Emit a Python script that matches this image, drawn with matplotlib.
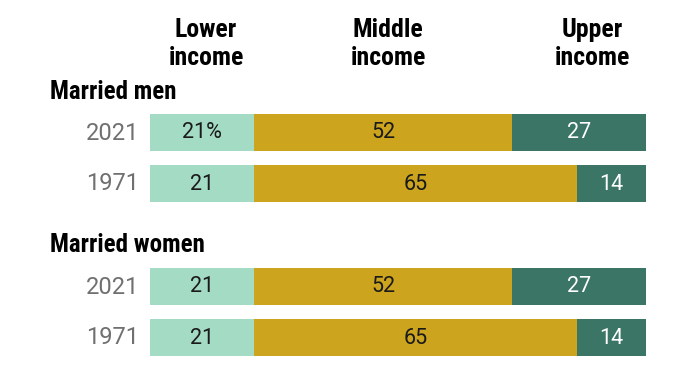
import matplotlib
matplotlib.use("Agg")
import matplotlib.pyplot as plt
import matplotlib.font_manager as fm

# Data
groups = ["Married men", "Married women"]
years = ["2021", "1971"]
categories = ["Lower\nincome", "Middle\nincome", "Upper\nincome"]
men_lower = [21, 21]
men_middle = [52, 65]
men_upper = [27, 14]
women_lower = [21, 21]
women_middle = [52, 65]
women_upper = [27, 14]

colors = ["#a3dbc5", "#cca41e", "#3a7565"]
text_colors = ["#1a1a1a", "#1a1a1a", "#ffffff"]

names = {f.name for f in fm.fontManager.ttflist}
prefs = ["Libre Franklin Condensed", "Roboto Condensed", "Archivo Narrow",
         "Liberation Sans Narrow", "PT Sans Narrow", "Fira Sans Condensed",
         "IBM Plex Sans Condensed", "Barlow Semi Condensed", "DejaVu Sans"]
narrow = next((p for p in prefs if p in names), "DejaVu Sans")
fam_b = [narrow, "DejaVu Sans"]
prefs_n = ["Roboto", "Lato", "DejaVu Sans"]
num = next((p for p in prefs_n if p in names), "DejaVu Sans")
fam_n = [num, "DejaVu Sans"]

W, H = 690, 386
fig = plt.figure(figsize=(W / 100, H / 100), dpi=100)
x0, x1 = 150, 646
ax = fig.add_axes([x0 / W, 0, (x1 - x0) / W, 1])
ax.set_xlim(0, 100)
ax.set_ylim(H, 0)
ax.axis("off")

row_y = [[132, 183], [286, 337]]
group_y = [92, 245]
bar_h = 37

data = [
    [men_lower, men_middle, men_upper],
    [women_lower, women_middle, women_upper],
]

first = True
for g, gname in enumerate(groups):
    ax.text(-20.2, group_y[g], gname, fontsize=18, fontweight="bold",
            family=fam_b, ha="left", va="center", color="black")
    for r, yr in enumerate(years):
        y = row_y[g][r]
        left = 0
        for c in range(3):
            v = data[g][c][r]
            ax.barh(y, v, left=left, height=bar_h, color=colors[c],
                    edgecolor="none")
            lab = f"{v}%" if first and c == 0 else f"{v}"
            ax.text(left + v / 2, y + 1, lab, ha="center", va="center",
                    fontsize=15.5, family=fam_n, fontweight="normal",
                    color=text_colors[c])
            left += v
        first = False
        ax.text(-2.2, y + 1, yr, ha="right", va="center", fontsize=17,
                family=fam_n, fontweight="normal", color="#707070")

header_x = [11.3, 48.0, 89.2]
for hx, cat in zip(header_x, categories):
    ax.text(hx, 44, cat, ha="center", va="center", fontsize=18.5,
            fontweight="bold", family=fam_b, color="black", linespacing=1.25)

fig.savefig("out.png", dpi=100)
